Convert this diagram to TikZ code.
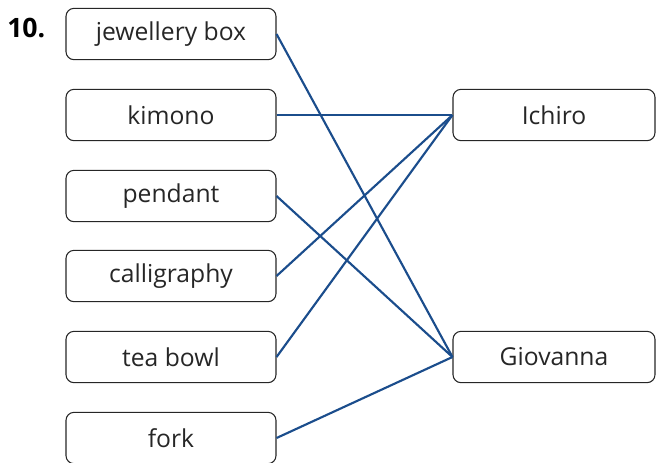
\documentclass[tikz,border=0pt]{standalone}
\usepackage{fontspec}
\setmainfont{Open Sans}
\definecolor{lineblue}{HTML}{1B4D8C}
\begin{document}
\begin{tikzpicture}[x=0.75pt,y=-0.75pt,
  item/.style={draw=black!85,line width=0.8pt,rounded corners=6pt,minimum height=38.5pt,inner sep=0pt,font=\fontsize{18.5}{20}\selectfont,text=black!85},
  leftbox/.style={item,minimum width=157.5pt},
  rightbox/.style={item,minimum width=151.5pt},
  link/.style={draw=lineblue,line width=1.6pt}]
\useasboundingbox (0,0) rectangle (656,462);
\clip (0,0) rectangle (656,462);
\node[font=\bfseries\fontsize{20}{22}\selectfont,anchor=west,inner sep=0pt] (num) at (7,28) {10.};
\node[leftbox] (a) at (171,34) {jewellery box};
\node[leftbox] (b) at (171,115) {kimono};
\node[leftbox] (c) at (171,196) {pendant};
\node[leftbox] (d) at (171,276) {calligraphy};
\node[leftbox] (e) at (171,357) {tea bowl};
\node[leftbox] (f) at (171,438) {fork};
\node[rightbox] (i) at (554,115) {Ichiro};
\node[rightbox] (g) at (554,357) {Giovanna};
\draw[link] (a.east) -- (g.west);
\draw[link] (b.east) -- (i.west);
\draw[link] (c.east) -- (g.west);
\draw[link] (d.east) -- (i.west);
\draw[link] (e.east) -- (i.west);
\draw[link] (f.east) -- (g.west);
\end{tikzpicture}
\end{document}
